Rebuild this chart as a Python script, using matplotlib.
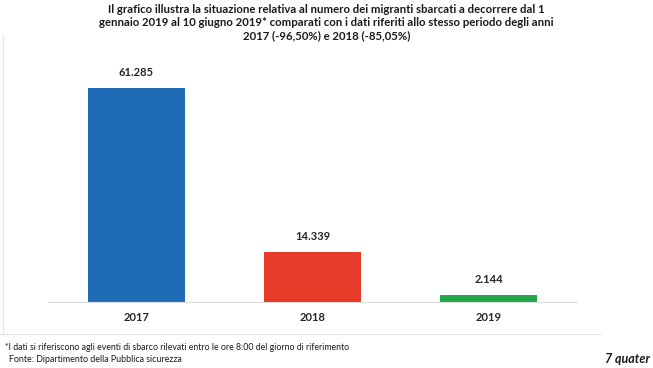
import matplotlib
matplotlib.use("Agg")
from matplotlib import pyplot as plt
from matplotlib.lines import Line2D

plt.rcParams['font.family'] = ['Lato', 'DejaVu Sans']

years = ['2017', '2018', '2019']
sbarchi = [61285, 14339, 2144]
etichette = ['61.285', '14.339', '2.144']
colori = ['#1f6bb5', '#e63b28', '#22a84a']

titolo = ("Il grafico illustra la situazione relativa al numero dei migranti sbarcati a decorrere dal 1\n"
          "gennaio 2019 al 10 giugno 2019* comparati con i dati riferiti allo stesso periodo degli anni\n"
          "2017 (-96,50%) e 2018 (-85,05%)")
nota = "*I dati si riferiscono agli eventi di sbarco rilevati entro le ore 8:00 del giorno di riferimento"
fonte = "Fonte: Dipartimento della Pubblica sicurezza"

W, H = 653, 368
fig = plt.figure(figsize=(W / 100, H / 100), dpi=100)

# axes placed in pixel coords of the reference
x0, x1, yb, yt = 48, 577, 302, 57.6
ax = fig.add_axes([x0 / W, 1 - yb / H, (x1 - x0) / W, (yb - yt) / H])
ax.bar(years, sbarchi, width=0.55, color=colori)
ax.set_ylim(0, 70000)
ax.set_xlim(-0.5, 2.5)
for s in ['top', 'right', 'left']:
    ax.spines[s].set_visible(False)
ax.spines['bottom'].set_color('#dcdcdc')
ax.spines['bottom'].set_linewidth(0.8)
ax.set_yticks([])
ax.tick_params(axis='x', length=0, pad=7)
for lab in ax.get_xticklabels():
    lab.set_fontweight('bold')
    lab.set_fontsize(8)
    lab.set_color('#262626')

for i, (v, t) in enumerate(zip(sbarchi, etichette)):
    ax.annotate(t, (i, v), xytext=(0, 7), textcoords='offset points',
                ha='center', va='bottom', fontsize=8, fontweight='bold', color='#262626')

# chart frame (light gray)
fig.add_artist(Line2D([2.5 / W, 2.5 / W], [1 - 35 / H, 1 - 334 / H], color='#e4e4e4', lw=0.8))
fig.add_artist(Line2D([0, 600 / W], [1 - 334 / H, 1 - 334 / H], color='#e4e4e4', lw=0.8))

fig.text(0.5, 1 - 4 / H, titolo, ha='center', va='top', fontsize=8.2, fontweight='bold',
         color='#1a1a1a', linespacing=1.25)
fig.text(5 / W, 1 - 347 / H, nota, ha='left', va='center', fontsize=6.3, color='#1a1a1a')
fig.text(9 / W, 1 - 360 / H, fonte, ha='left', va='center', fontsize=6.4, color='#1a1a1a')
fig.text(650 / W, 1 - 359 / H, '7 quater', ha='right', va='center', fontsize=9,
         fontweight='bold', fontstyle='italic', color='#1a1a1a')

fig.savefig('out.png', dpi=100)
